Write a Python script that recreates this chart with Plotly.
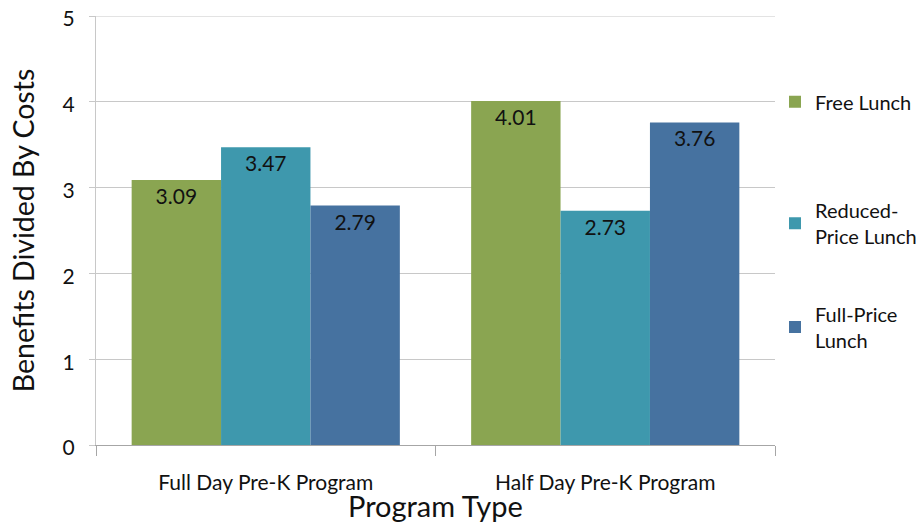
import plotly.graph_objects as go

categories = ["Full Day Pre-K Program", "Half Day Pre-K Program"]
free_lunch = [3.09, 4.01]
reduced_lunch = [3.47, 2.73]
full_price_lunch = [2.79, 3.76]
series_names = ["Free Lunch", "Reduced-<br>Price Lunch", "Full-Price<br>Lunch"]
colors = ["#8aa551", "#3e98ad", "#4672a0"]
y_ticks = [0, 1, 2, 3, 4, 5]

FONT = "Lato, 'Open Sans', sans-serif"
TXT = "#111111"
GRID = "#c8c8c8"

fig = go.Figure()
legends = ["legend", "legend2", "legend3"]
for name, vals, col, lg in zip(series_names, [free_lunch, reduced_lunch, full_price_lunch], colors, legends):
    fig.add_trace(go.Bar(
        x=categories, y=vals, name=name, marker=dict(color=col, line=dict(width=0)),
        text=[f"{v:.2f}" for v in vals], textposition="inside", insidetextanchor="end",
        textfont=dict(color=TXT, size=21, family=FONT), textangle=0,
        legend=lg,
    ))

leg_common = dict(bgcolor="rgba(0,0,0,0)", font=dict(size=20, family=FONT, color=TXT),
                  xanchor="left", yanchor="middle", x=1.0, itemwidth=30)
fig.update_layout(
    width=924, height=527,
    margin=dict(l=96, r=149, t=16, b=82, autoexpand=False),
    paper_bgcolor="white", plot_bgcolor="white",
    barmode="group", bargap=0.21, bargroupgap=0,
    font=dict(family=FONT, color=TXT),
    showlegend=True,
    legend=dict(**leg_common, y=0.80),
    legend2=dict(**leg_common, y=0.517),
    legend3=dict(**leg_common, y=0.275),
    xaxis=dict(
        tickfont=dict(size=21, family=FONT, color=TXT),
        showline=True, linecolor="#a6a6a6", linewidth=1,
        ticks="outside", tickson="boundaries", ticklen=10, tickcolor="#a6a6a6",
        ticklabelstandoff=19,
        showgrid=False, automargin=False,
    ),
    yaxis=dict(
        title=dict(text="Benefits Divided By Costs", font=dict(size=28.5, family=FONT, color=TXT), standoff=19),
        range=[0, 5], tickvals=y_ticks, tickfont=dict(size=21, family=FONT, color=TXT),
        showline=True, linecolor=GRID, linewidth=1,
        ticks="outside", ticklen=6, tickcolor=GRID,
        ticklabelstandoff=10, ticklabeloverflow="allow", ticklabelshift=3,
        showgrid=True, gridcolor=GRID, gridwidth=1, zeroline=False,
        automargin=False,
    ),
    shapes=[dict(type="line", xref="paper", yref="y", x0=0, x1=1, y0=y_ticks[-1], y1=y_ticks[-1],
                 line=dict(color=GRID, width=1), layer="below")],
    annotations=[dict(
        text="Program Type", xref="paper", yref="paper", x=0.5, y=-0.142,
        xanchor="center", yanchor="middle", showarrow=False,
        font=dict(size=29, family=FONT, color=TXT),
    )],
)

fig.write_html("out.html", config={"displayModeBar": False},
               post_script="document.body.style.margin='0px';")
